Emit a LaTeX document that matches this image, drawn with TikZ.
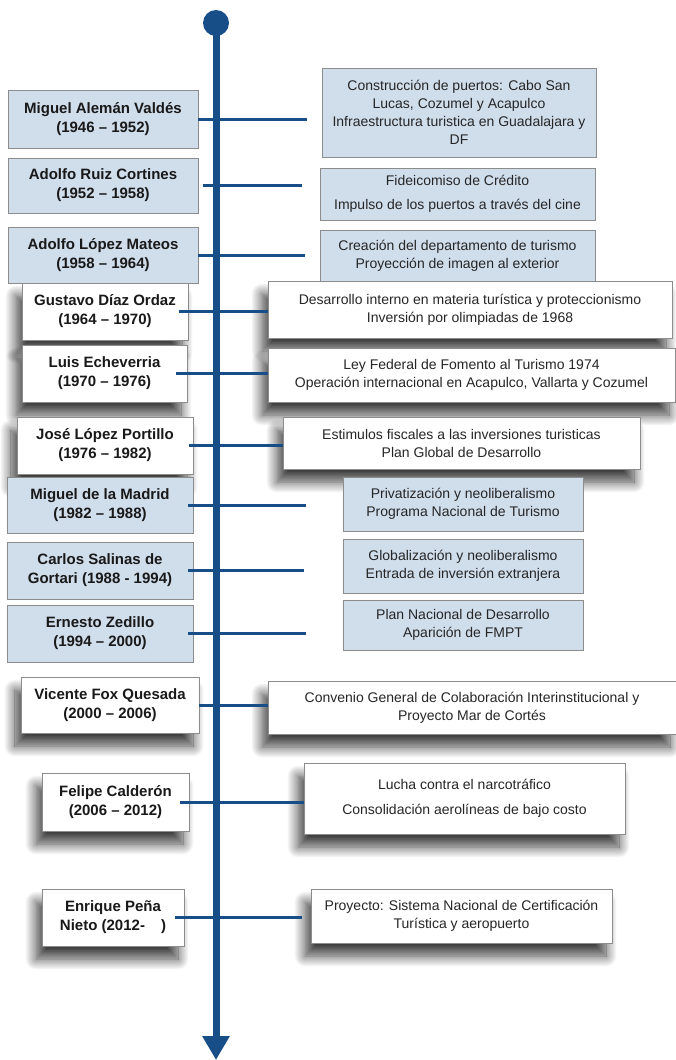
\documentclass[tikz,border=0pt]{standalone}
\usepackage{fontspec}
\setmainfont{Liberation Sans}
\usetikzlibrary{arrows.meta,shadows.blur}

\definecolor{ejeazul}{RGB}{24,78,135}
\definecolor{cajaazul}{RGB}{208,221,235}
\definecolor{borde}{RGB}{140,140,140}

\begin{document}
\begin{tikzpicture}
[
    x=1pt, y=-1pt,
    caja/.style={draw=borde, line width=0.8pt, inner sep=2pt, align=center},
    azul/.style={caja, fill=cajaazul},
    blanco/.style={caja, fill=white, blur shadow={shadow xshift=-6pt, shadow yshift=-13pt, shadow blur radius=11pt, shadow blur steps=14, shadow opacity=75}},
    pres/.style={font=\bfseries\fontsize{15}{19}\selectfont, text=black!90},
    hecho/.style={font=\fontsize{14}{18}\selectfont, text=black!85},
    enlace/.style={draw=ejeazul, line width=3pt},
    eje/.style={draw=ejeazul, line width=7pt},
]
\useasboundingbox (0,0) rectangle (676,1060);

% sexenios con caja blanca
\node[blanco, pres, minimum width=166pt, minimum height=57pt] (gdo) at (105,311.5) {Gustavo Díaz Ordaz\\(1964 -- 1970)};
\node[blanco, hecho, minimum width=404pt, minimum height=57pt] (rgdo) at (470,309.5) {Desarrollo interno en materia turística y proteccionismo\\Inversión por olimpiadas de 1968};
\node[blanco, pres, minimum width=165pt, minimum height=57pt] (lec) at (104.5,373.5) {Luis Echeverria\\(1970 -- 1976)};
\node[blanco, hecho, minimum width=407pt, minimum height=54pt] (rlec) at (471.5,375) {Ley Federal de Fomento al Turismo 1974\\Operación internacional en Acapulco, Vallarta y Cozumel};
\node[blanco, pres, minimum width=176pt, minimum height=57pt] (jlp) at (105,445.5) {José López Portillo\\(1976 -- 1982)};
\node[blanco, hecho, minimum width=357pt, minimum height=52pt] (rjlp) at (461.5,443) {Estimulos fiscales a las inversiones turisticas\\Plan Global de Desarrollo};
\node[blanco, pres, minimum width=178pt, minimum height=56pt] (vfq) at (110,705) {Vicente Fox Quesada\\(2000 -- 2006)};
\node[blanco, hecho, minimum width=408pt, minimum height=53pt] (rvfq) at (472,707.5) {Convenio General de Colaboración Interinstitucional y\\Proyecto Mar de Cortés};
\node[blanco, pres, minimum width=147pt, minimum height=58pt] (fca) at (115.5,802) {Felipe Calderón\\(2006 -- 2012)};
\node[blanco, hecho, font=\fontsize{14}{25}\selectfont, minimum width=321pt, minimum height=71pt] (rfca) at (464.5,798.5) {Lucha contra el narcotráfico\\Consolidación aerolíneas de bajo costo};
\node[blanco, pres, minimum width=142pt, minimum height=57pt] (epn) at (113,917.5) {Enrique Peña\\Nieto (2012-\hspace{16pt})};
\node[blanco, hecho, minimum width=301pt, minimum height=54pt] (repn) at (461.5,916) {Proyecto: Sistema Nacional de Certificación\\Turística y aeropuerto};

% sexenios con caja azul
\node[azul, pres, minimum width=190pt, minimum height=58pt] (mav) at (103,119) {Miguel Alemán Valdés\\(1946 -- 1952)};
\node[azul, hecho, minimum width=274pt, minimum height=89pt] (rmav) at (459,112.5) {Construcción de puertos: Cabo San\\Lucas, Cozumel y Acapulco\\Infraestructura turistica en Guadalajara y\\DF};
\node[azul, pres, minimum width=190pt, minimum height=55pt] (arc) at (103,185.5) {Adolfo Ruiz Cortines\\(1952 -- 1958)};
\node[azul, hecho, font=\fontsize{14}{24}\selectfont, minimum width=275pt, minimum height=52pt] (rarc) at (457.5,194) {Fideicomiso de Crédito\\Impulso de los puertos a través del cine};
\node[azul, pres, minimum width=190pt, minimum height=56pt] (alm) at (103,255) {Adolfo López Mateos\\(1958 -- 1964)};
\node[azul, hecho, minimum width=275pt, minimum height=51pt] (ralm) at (457.5,255.5) {Creación del departamento de turismo\\Proyección de imagen al exterior};
\node[azul, pres, minimum width=186pt, minimum height=56pt] (mdm) at (100,505) {Miguel de la Madrid\\(1982 -- 1988)};
\node[azul, hecho, minimum width=240pt, minimum height=54pt] (rmdm) at (463,504) {Privatización y neoliberalismo\\Programa Nacional de Turismo};
\node[azul, pres, minimum width=186pt, minimum height=57pt] (csg) at (100,570.5) {Carlos Salinas de\\Gortari (1988 - 1994)};
\node[azul, hecho, minimum width=240pt, minimum height=54pt] (rcsg) at (463,566) {Globalización y neoliberalismo\\Entrada de inversión extranjera};
\node[azul, pres, minimum width=186pt, minimum height=57pt] (ezd) at (100,633.5) {Ernesto Zedillo\\(1994 -- 2000)};
\node[azul, hecho, minimum width=240pt, minimum height=50pt] (rezd) at (463,625) {Plan Nacional de Desarrollo\\Aparición de FMPT};

% eje del tiempo
\coordinate (arriba) at (216,23);
\coordinate (abajo) at (216,1060);
\draw[eje, -{Triangle[width=26pt,length=24pt]}] (arriba) -- (abajo);
\fill[ejeazul] (arriba) circle[radius=13pt];

% enlaces
\foreach \a/\b/\s/\e in {mav/rmav/0/15, arc/rarc/5/18, alm/ralm/0/15, gdo/rgdo/-9/0, lec/rlec/-11/0, jlp/rjlp/-4/0, mdm/rmdm/-5/37, csg/rcsg/-5/39, ezd/rezd/-5/37, vfq/rvfq/0/0, fca/rfca/-9/0, epn/repn/-9/9}
    \draw[enlace, shorten <=\s pt, shorten >=\e pt] (\a.east) -- (\a.east -| \b.west);
\end{tikzpicture}
\end{document}
